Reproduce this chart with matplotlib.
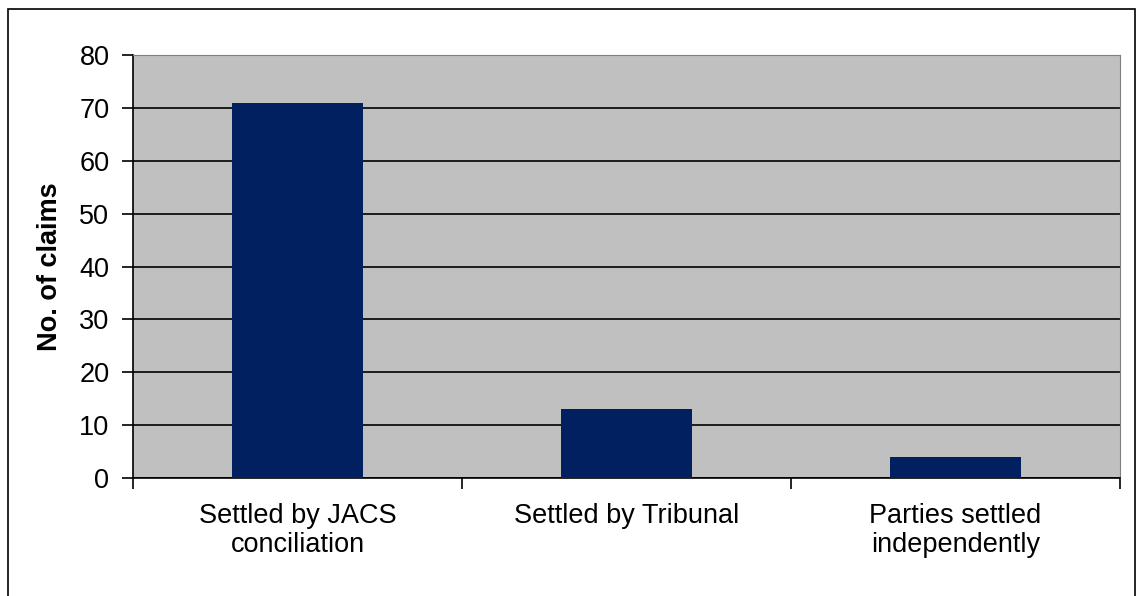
import numpy as np
import matplotlib.pyplot as plt
from matplotlib.patches import Rectangle

categories = ["Settled by JACS\nconciliation", "Settled by Tribunal", "Parties settled\nindependently"]
claims = [71, 13, 4]

plt.rcParams['font.family'] = ['Liberation Sans', 'DejaVu Sans']

fig = plt.figure(figsize=(11.38, 5.96), dpi=100)
ax = fig.add_axes([0.1169, 0.198, 0.8673, 0.7097])

x = np.arange(len(categories))
ax.set_facecolor('#C0C0C0')
ax.bar(x, claims, width=0.4, color='#00205F', zorder=3)

ax.set_xlim(-0.5, len(categories) - 0.5)
ax.set_ylim(0, 80)
ax.set_yticks(range(0, 81, 10))
ax.yaxis.grid(True, color='black', linewidth=1.2, zorder=1)

# boundary ticks between categories, labels centred on the bars
ax.set_xticks(np.arange(-0.5, len(categories), 1.0))
ax.set_xticklabels([])
ax.set_xticks(x, minor=True)
ax.set_xticklabels(categories, minor=True, fontsize=19.5, linespacing=1.15)
ax.tick_params(axis='x', which='major', direction='out', length=8, width=1.2)
ax.tick_params(axis='x', which='minor', length=0, pad=18)
ax.tick_params(axis='y', direction='out', length=8, width=1.2, labelsize=19.5, pad=9)

ax.spines['left'].set_linewidth(1.2)
ax.spines['bottom'].set_linewidth(1.2)
ax.spines['top'].set_color('#808080')
ax.spines['right'].set_color('#808080')

ax.set_ylabel('No. of claims', fontsize=19.5, fontweight='bold')
ax.yaxis.set_label_coords(-0.071, 0.5)

# outer chart frame
fig.patches.append(Rectangle((8 / 1138, -0.05), 1127 / 1138, 1.05 - 9 / 596,
                             transform=fig.transFigure, fill=False,
                             edgecolor='black', linewidth=1.2))

fig.savefig('out.png', dpi=100)
